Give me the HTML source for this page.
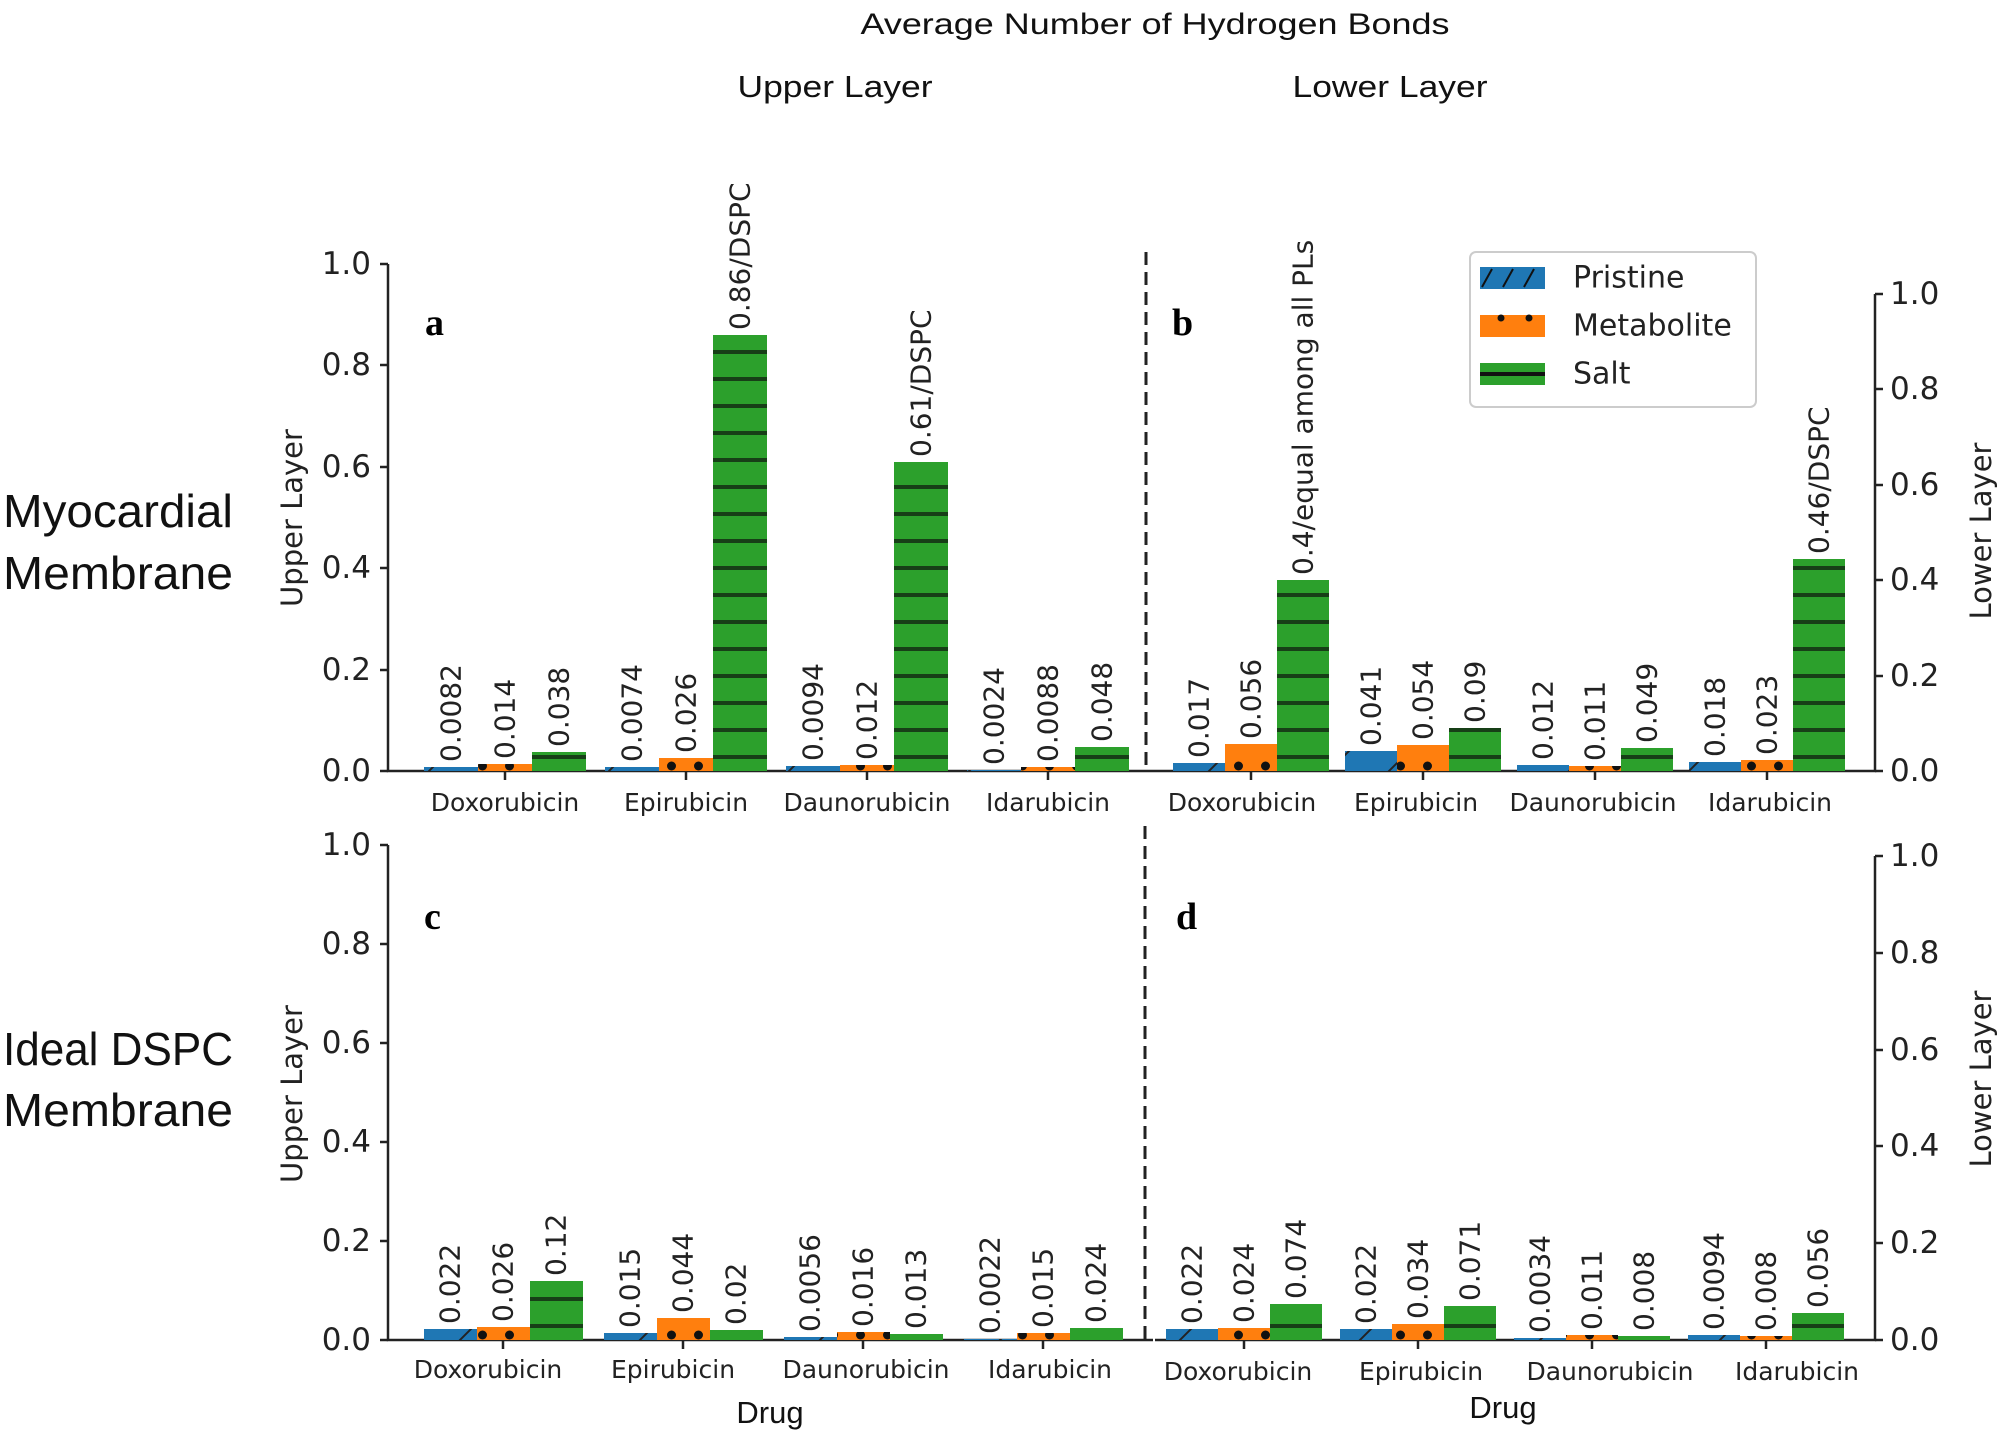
<!DOCTYPE html>
<html><head><meta charset="utf-8"><style>html,body{margin:0;padding:0;background:#fff}svg{display:block}</style></head>
<body>
<svg width="2007" height="1436" viewBox="0 0 2007 1436" xmlns="http://www.w3.org/2000/svg">
<defs>
<pattern id="hb" patternUnits="userSpaceOnUse" width="60" height="60"><rect width="60" height="60" fill="#1f77b4"/><path d="M-5 65 L65 -5" stroke="#222" stroke-width="2"/></pattern>
<pattern id="ho1" patternUnits="userSpaceOnUse" x="10" y="751" width="27" height="30"><rect width="27" height="30" fill="#ff7f0e"/><circle cx="13.5" cy="15" r="4.5" fill="#111"/></pattern>
<pattern id="ho2" patternUnits="userSpaceOnUse" x="10" y="1320" width="27" height="30"><rect width="27" height="30" fill="#ff7f0e"/><circle cx="13.5" cy="15" r="4.5" fill="#111"/></pattern>
<pattern id="hg1" patternUnits="userSpaceOnUse" x="0" y="771" width="20" height="27"><rect width="20" height="27" fill="#2ca02c"/><rect y="11" width="20" height="4" fill="#173f17"/></pattern>
<pattern id="hg2" patternUnits="userSpaceOnUse" x="0" y="1340" width="20" height="27"><rect width="20" height="27" fill="#2ca02c"/><rect y="11" width="20" height="4" fill="#173f17"/></pattern>
</defs>
<g font-family="Liberation Sans, sans-serif" fill="#111">
<text x="1155" y="34" font-size="30" text-anchor="middle" textLength="589" lengthAdjust="spacingAndGlyphs">Average Number of Hydrogen Bonds</text>
<text x="835" y="97" font-size="31" text-anchor="middle" textLength="195" lengthAdjust="spacingAndGlyphs">Upper Layer</text>
<text x="1390" y="97" font-size="31" text-anchor="middle" textLength="195" lengthAdjust="spacingAndGlyphs">Lower Layer</text>
<text x="3" y="527" font-size="46" textLength="230" lengthAdjust="spacingAndGlyphs">Myocardial</text>
<text x="3" y="589" font-size="46" textLength="230" lengthAdjust="spacingAndGlyphs">Membrane</text>
<text x="3" y="1065" font-size="46" textLength="230" lengthAdjust="spacingAndGlyphs">Ideal DSPC</text>
<text x="3" y="1126" font-size="46" textLength="230" lengthAdjust="spacingAndGlyphs">Membrane</text>
<text x="770" y="1423" font-size="31" text-anchor="middle">Drug</text>
<text x="1503" y="1418" font-size="31" text-anchor="middle">Drug</text>
</g>
<g font-family="Liberation Serif, serif" font-weight="bold" font-size="38" fill="#000">
<text x="425" y="335">a</text><text x="1172" y="335">b</text>
<text x="424" y="929">c</text><text x="1176" y="929">d</text>
</g>
<g stroke="#222" stroke-width="2.5" fill="none">
<path d="M388 264 V771 H1147"/><path d="M1147 771 H1875 V294"/>
<path d="M388 845 V1340 H1153"/><path d="M1155 1340 H1875 V856"/>
<path d="M1146 252 V771 M1145 826 V1340" stroke-dasharray="13 7" stroke-width="3"/>
<path d="M380 771H388M380 670H388M380 568H388M380 467H388M380 365H388M380 264H388"/>
<path d="M1875 771H1883M1875 676H1883M1875 580H1883M1875 485H1883M1875 389H1883M1875 294H1883"/>
<path d="M380 1340H388M380 1241H388M380 1142H388M380 1043H388M380 944H388M380 845H388"/>
<path d="M1875 1340H1883M1875 1243H1883M1875 1146H1883M1875 1050H1883M1875 953H1883M1875 856H1883"/>
<path d="M505 771v9M686 771v9M867 771v9M1048 771v9M1251 771v9M1423 771v9M1595 771v9M1767 771v9"/>
<path d="M503 1340v9M683 1340v9M863 1340v9M1043 1340v9M1244 1340v9M1418 1340v9M1592 1340v9M1766 1340v9"/>
</g>
<g font-family="DejaVu Sans, sans-serif" font-size="31" fill="#222" dominant-baseline="central">
<g text-anchor="end">
<text x="371" y="771">0.0</text><text x="371" y="670">0.2</text><text x="371" y="568">0.4</text><text x="371" y="467">0.6</text><text x="371" y="365">0.8</text><text x="371" y="264">1.0</text>
<text x="371" y="1340">0.0</text><text x="371" y="1241">0.2</text><text x="371" y="1142">0.4</text><text x="371" y="1043">0.6</text><text x="371" y="944">0.8</text><text x="371" y="845">1.0</text>
</g>
<text x="1890" y="771">0.0</text><text x="1890" y="676">0.2</text><text x="1890" y="580">0.4</text><text x="1890" y="485">0.6</text><text x="1890" y="389">0.8</text><text x="1890" y="294">1.0</text>
<text x="1890" y="1340">0.0</text><text x="1890" y="1243">0.2</text><text x="1890" y="1146">0.4</text><text x="1890" y="1050">0.6</text><text x="1890" y="953">0.8</text><text x="1890" y="856">1.0</text>
<text transform="translate(292,518) rotate(-90)" text-anchor="middle" font-size="29">Upper Layer</text>
<text transform="translate(292,1094) rotate(-90)" text-anchor="middle" font-size="29">Upper Layer</text>
<text transform="translate(1981,531) rotate(-90)" text-anchor="middle" font-size="29">Lower Layer</text>
<text transform="translate(1981,1079) rotate(-90)" text-anchor="middle" font-size="29">Lower Layer</text>
</g>
<g font-family="DejaVu Sans, sans-serif" font-size="25" fill="#222" text-anchor="middle">
<text x="505" y="811">Doxorubicin</text><text x="686" y="811">Epirubicin</text><text x="867" y="811">Daunorubicin</text><text x="1048" y="811">Idarubicin</text>
<text x="1242" y="811">Doxorubicin</text><text x="1416" y="811">Epirubicin</text><text x="1593" y="811">Daunorubicin</text><text x="1770" y="811">Idarubicin</text>
<text x="488" y="1378">Doxorubicin</text><text x="673" y="1378">Epirubicin</text><text x="866" y="1378">Daunorubicin</text><text x="1050" y="1378">Idarubicin</text>
<text x="1238" y="1380">Doxorubicin</text><text x="1421" y="1380">Epirubicin</text><text x="1610" y="1380">Daunorubicin</text><text x="1797" y="1380">Idarubicin</text>
</g>
<g>
<rect x="424" y="767" width="54" height="4" fill="url(#hb)"/><rect x="478" y="764" width="54" height="7" fill="url(#ho1)"/><rect x="532" y="752" width="54" height="19" fill="url(#hg1)"/>
<rect x="605" y="767" width="54" height="4" fill="url(#hb)"/><rect x="659" y="758" width="54" height="13" fill="url(#ho1)"/><rect x="713" y="335" width="54" height="436" fill="url(#hg1)"/>
<rect x="786" y="766" width="54" height="5" fill="url(#hb)"/><rect x="840" y="765" width="54" height="6" fill="url(#ho1)"/><rect x="894" y="462" width="54" height="309" fill="url(#hg1)"/>
<rect x="967" y="770" width="54" height="1" fill="url(#hb)"/><rect x="1021" y="767" width="54" height="4" fill="url(#ho1)"/><rect x="1075" y="747" width="54" height="24" fill="url(#hg1)"/>
</g>
<g>
<rect x="1173" y="763" width="52" height="8" fill="url(#hb)"/><rect x="1225" y="744" width="52" height="27" fill="url(#ho1)"/><rect x="1277" y="580" width="52" height="191" fill="url(#hg1)"/>
<rect x="1345" y="751" width="52" height="20" fill="url(#hb)"/><rect x="1397" y="745" width="52" height="26" fill="url(#ho1)"/><rect x="1449" y="728" width="52" height="43" fill="url(#hg1)"/>
<rect x="1517" y="765" width="52" height="6" fill="url(#hb)"/><rect x="1569" y="766" width="52" height="5" fill="url(#ho1)"/><rect x="1621" y="748" width="52" height="23" fill="url(#hg1)"/>
<rect x="1689" y="762" width="52" height="9" fill="url(#hb)"/><rect x="1741" y="760" width="52" height="11" fill="url(#ho1)"/><rect x="1793" y="559" width="52" height="212" fill="url(#hg1)"/>
</g>
<g>
<rect x="424" y="1329" width="53" height="11" fill="url(#hb)"/><rect x="477" y="1327" width="53" height="13" fill="url(#ho2)"/><rect x="530" y="1281" width="53" height="59" fill="url(#hg2)"/>
<rect x="604" y="1333" width="53" height="7" fill="url(#hb)"/><rect x="657" y="1318" width="53" height="22" fill="url(#ho2)"/><rect x="710" y="1330" width="53" height="10" fill="url(#hg2)"/>
<rect x="784" y="1337" width="53" height="3" fill="url(#hb)"/><rect x="837" y="1332" width="53" height="8" fill="url(#ho2)"/><rect x="890" y="1334" width="53" height="6" fill="url(#hg2)"/>
<rect x="964" y="1339" width="53" height="1" fill="url(#hb)"/><rect x="1017" y="1333" width="53" height="7" fill="url(#ho2)"/><rect x="1070" y="1328" width="53" height="12" fill="url(#hg2)"/>
</g>
<g>
<rect x="1166" y="1329" width="52" height="11" fill="url(#hb)"/><rect x="1218" y="1328" width="52" height="12" fill="url(#ho2)"/><rect x="1270" y="1304" width="52" height="36" fill="url(#hg2)"/>
<rect x="1340" y="1329" width="52" height="11" fill="url(#hb)"/><rect x="1392" y="1324" width="52" height="16" fill="url(#ho2)"/><rect x="1444" y="1306" width="52" height="34" fill="url(#hg2)"/>
<rect x="1514" y="1338" width="52" height="2" fill="url(#hb)"/><rect x="1566" y="1335" width="52" height="5" fill="url(#ho2)"/><rect x="1618" y="1336" width="52" height="4" fill="url(#hg2)"/>
<rect x="1688" y="1335" width="52" height="5" fill="url(#hb)"/><rect x="1740" y="1336" width="52" height="4" fill="url(#ho2)"/><rect x="1792" y="1313" width="52" height="27" fill="url(#hg2)"/>
</g>
<g font-family="DejaVu Sans, sans-serif" font-size="28" fill="#222" dominant-baseline="central">
<text transform="translate(451,762) rotate(-90)">0.0082</text>
<text transform="translate(505,759) rotate(-90)">0.014</text>
<text transform="translate(559,747) rotate(-90)">0.038</text>
<text transform="translate(632,762) rotate(-90)">0.0074</text>
<text transform="translate(686,753) rotate(-90)">0.026</text>
<text transform="translate(740,330) rotate(-90)">0.86/DSPC</text>
<text transform="translate(813,761) rotate(-90)">0.0094</text>
<text transform="translate(867,760) rotate(-90)">0.012</text>
<text transform="translate(921,457) rotate(-90)">0.61/DSPC</text>
<text transform="translate(994,765) rotate(-90)">0.0024</text>
<text transform="translate(1048,762) rotate(-90)">0.0088</text>
<text transform="translate(1102,742) rotate(-90)">0.048</text>
<text transform="translate(1199,758) rotate(-90)">0.017</text>
<text transform="translate(1251,739) rotate(-90)">0.056</text>
<text transform="translate(1303,575) rotate(-90)">0.4/equal among all PLs</text>
<text transform="translate(1371,746) rotate(-90)">0.041</text>
<text transform="translate(1423,740) rotate(-90)">0.054</text>
<text transform="translate(1475,723) rotate(-90)">0.09</text>
<text transform="translate(1543,760) rotate(-90)">0.012</text>
<text transform="translate(1595,761) rotate(-90)">0.011</text>
<text transform="translate(1647,743) rotate(-90)">0.049</text>
<text transform="translate(1715,757) rotate(-90)">0.018</text>
<text transform="translate(1767,755) rotate(-90)">0.023</text>
<text transform="translate(1819,554) rotate(-90)">0.46/DSPC</text>
<text transform="translate(450,1324) rotate(-90)">0.022</text>
<text transform="translate(503,1322) rotate(-90)">0.026</text>
<text transform="translate(556,1276) rotate(-90)">0.12</text>
<text transform="translate(630,1328) rotate(-90)">0.015</text>
<text transform="translate(683,1313) rotate(-90)">0.044</text>
<text transform="translate(736,1325) rotate(-90)">0.02</text>
<text transform="translate(810,1332) rotate(-90)">0.0056</text>
<text transform="translate(863,1327) rotate(-90)">0.016</text>
<text transform="translate(916,1329) rotate(-90)">0.013</text>
<text transform="translate(990,1334) rotate(-90)">0.0022</text>
<text transform="translate(1043,1328) rotate(-90)">0.015</text>
<text transform="translate(1096,1323) rotate(-90)">0.024</text>
<text transform="translate(1192,1324) rotate(-90)">0.022</text>
<text transform="translate(1244,1323) rotate(-90)">0.024</text>
<text transform="translate(1296,1299) rotate(-90)">0.074</text>
<text transform="translate(1366,1324) rotate(-90)">0.022</text>
<text transform="translate(1418,1319) rotate(-90)">0.034</text>
<text transform="translate(1470,1301) rotate(-90)">0.071</text>
<text transform="translate(1540,1333) rotate(-90)">0.0034</text>
<text transform="translate(1592,1330) rotate(-90)">0.011</text>
<text transform="translate(1644,1331) rotate(-90)">0.008</text>
<text transform="translate(1714,1330) rotate(-90)">0.0094</text>
<text transform="translate(1766,1331) rotate(-90)">0.008</text>
<text transform="translate(1818,1308) rotate(-90)">0.056</text>
</g>
<rect x="1470" y="252" width="286" height="155" rx="6" fill="#fff" stroke="#ccc" stroke-width="2"/>
<rect x="1480" y="267" width="65" height="22" fill="#1f77b4"/>
<path d="M1482 287 L1492 269 M1503 287 L1513 269 M1524 287 L1534 269" stroke="#111" stroke-width="2"/>
<rect x="1480" y="315" width="65" height="22" fill="#ff7f0e"/>
<circle cx="1501" cy="318" r="3.5" fill="#111"/><circle cx="1529" cy="318" r="3.5" fill="#111"/>
<rect x="1480" y="363" width="65" height="22" fill="#2ca02c"/>
<rect x="1480" y="372" width="65" height="4" fill="#111"/>
<g font-family="DejaVu Sans, sans-serif" font-size="30" fill="#222" dominant-baseline="central">
<text x="1573" y="278">Pristine</text><text x="1573" y="326">Metabolite</text><text x="1573" y="374">Salt</text>
</g>
</svg>
</body></html>
